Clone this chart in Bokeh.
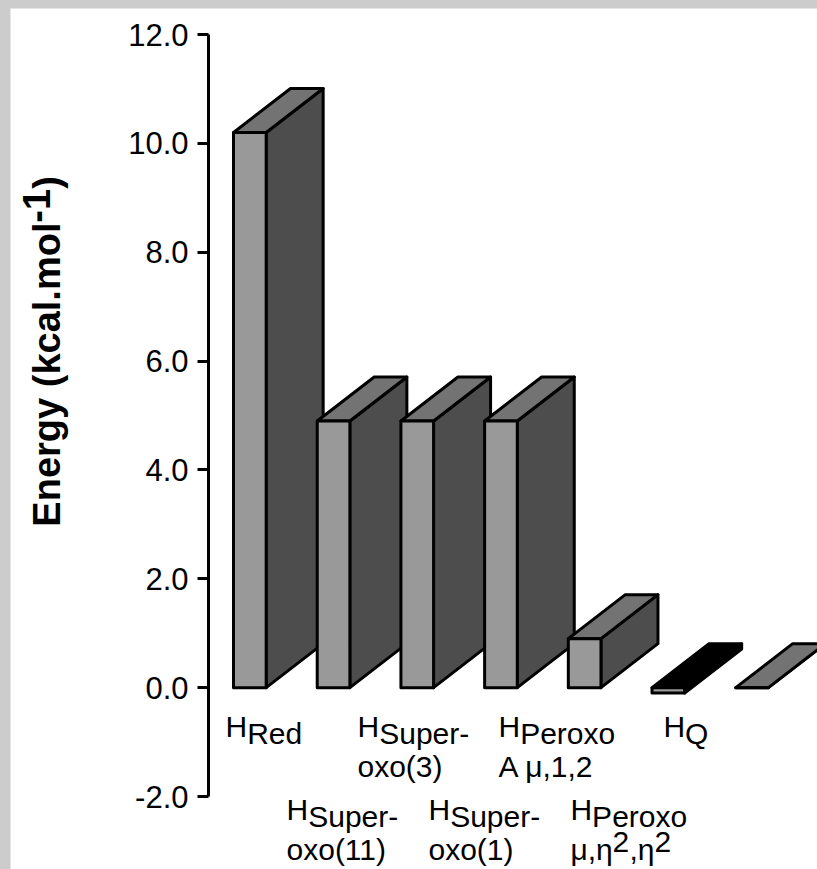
import math
import re
from bokeh.plotting import figure
from bokeh.models import ColumnDataSource, Range1d, FixedTicker, PrintfTickFormatter, LinearAxis
from bokeh.embed import file_html
from bokeh.resources import INLINE
from bokeh.core.properties import value

# ---------------- data ----------------
categories = ["HRed", "HSuper-oxo(11)", "HSuper-oxo(3)", "HSuper-oxo(1)",
              "HPeroxo A μ,1,2", "HPeroxo μ,η2,η2", "HQ"]
energies = [10.2, 4.9, 4.9, 4.9, 0.9, -0.1, 0.0]
label_main = ["Red", "Super-", "Super-", "Super-", "Peroxo", "Peroxo", "Q"]
label_second = ["", "oxo(11)", "oxo(3)", "oxo(1)", "A μ,1,2", "", ""]
y_ticks = [-2, 0, 2, 4, 6, 8, 10, 12]

# ---------------- layout / style ----------------
W, H = 807, 861
PX_X, PX_Y = 83.7, 54.43          # pixels per data unit
X0, X1 = -2.8596, 6.782
Y0, Y1 = -3.341, 12.478
AXIS_X = -0.494                    # where the energy axis stands
BAR_W = 0.39
DX = 57 / PX_X                     # 3-D depth offset
DY = 44 / PX_Y
FRONT, SIDE, TOP = "#999999", "#4d4d4d", "#737373"
top_colors = [TOP, TOP, TOP, TOP, TOP, "#000000", TOP]
side_colors = [SIDE, SIDE, SIDE, SIDE, SIDE, "#000000", SIDE]
FONT = "Liberation Sans"

label_left = [-0.291, 0.438, 1.286, 2.134, 2.970, 3.830, 4.941]
label_row = [0, 1, 0, 1, 0, 1, 0]
row_base = [-1.01 + 9 / PX_Y, -2.535 + 9 / PX_Y]
H_RAISE = 7 / PX_Y
LINE2 = 33 / PX_Y
H_WIDTH = 21.7      # px advance of "H" at 30px

p = figure(width=W, height=H, output_backend="svg", toolbar_location=None,
           x_range=Range1d(X0, X1), y_range=Range1d(Y0, Y1),
           x_axis_location=None, y_axis_location=None,
           min_border_left=0, min_border_right=0,
           min_border_top=0, min_border_bottom=0, background_fill_color="white",
           border_fill_color="white")
p.outline_line_color = None
p.grid.visible = False

# ---------------- bars ----------------
n = len(energies)
xl = [i - BAR_W / 2 for i in range(n)]
xr = [i + BAR_W / 2 for i in range(n)]
tops = [max(v, 0) for v in energies]
bots = [min(v, 0) for v in energies]

side_src = ColumnDataSource(dict(
    xs=[[xr[i], xr[i] + DX, xr[i] + DX, xr[i]] for i in range(n)],
    ys=[[bots[i], bots[i] + DY, tops[i] + DY, tops[i]] for i in range(n)],
    c=side_colors))
top_src = ColumnDataSource(dict(
    xs=[[xl[i], xr[i], xr[i] + DX, xl[i] + DX] for i in range(n)],
    ys=[[tops[i], tops[i], tops[i] + DY, tops[i] + DY] for i in range(n)],
    c=top_colors))
front_src = ColumnDataSource(dict(left=xl, right=xr, top=tops, bottom=bots))

p.patches("xs", "ys", source=side_src, fill_color="c", line_color="black",
          line_width=3, line_join="round")
p.patches("xs", "ys", source=top_src, fill_color="c", line_color="black",
          line_width=3, line_join="round")
p.quad(left="left", right="right", top="top", bottom="bottom", source=front_src,
       fill_color=FRONT, line_color="black", line_width=3, line_join="round")

# ---------------- category labels ----------------
tx, ty, tt, toff = [], [], [], []
for i in range(n):
    base = row_base[label_row[i]]
    tx.append(label_left[i]); ty.append(base + H_RAISE); tt.append("H"); toff.append(0)
    tx.append(label_left[i]); ty.append(base); tt.append(label_main[i]); toff.append(H_WIDTH)
    if label_second[i]:
        tx.append(label_left[i]); ty.append(base - LINE2); tt.append(label_second[i]); toff.append(0)
# μ,η²,η² second line of the sixth label
i6 = 5
b6 = row_base[label_row[i6]] - LINE2
for txt, off, up in [("μ,η", 0, 0), ("2", 42, 8), (",η", 59, 0), ("2", 84, 8)]:
    tx.append(label_left[i6]); ty.append(b6 + up / PX_Y); tt.append(txt); toff.append(off)

lab_src = ColumnDataSource(dict(x=tx, y=ty, text=tt, xo=toff))
p.text(x="x", y="y", text="text", x_offset="xo", source=lab_src,
       text_font=value(FONT), text_font_size="30px", text_color="black",
       text_align="left", text_baseline="alphabetic")

# ---------------- y axis ----------------
ax = LinearAxis(fixed_location=AXIS_X, bounds=(-2, 12),
                ticker=FixedTicker(ticks=y_ticks),
                formatter=PrintfTickFormatter(format="%.1f"))
ax.minor_tick_line_color = None
ax.axis_line_width = 3
ax.axis_line_color = "black"
ax.major_tick_line_width = 3
ax.major_tick_line_color = "black"
ax.major_tick_out = 11
ax.major_tick_in = 0
ax.major_label_standoff = 9
ax.major_label_text_font = FONT
ax.major_label_text_font_size = "31px"
ax.major_label_text_color = "black"
p.add_layout(ax, "left")

# ---------------- y axis title ----------------
def dx_(px):
    return (px - 249.35) / PX_X

def dy_(py):
    return (688 - py) / PX_Y

ttl_src = ColumnDataSource(dict(
    x=[dx_(47), dx_(36), dx_(47)],
    y=[dy_(527), dy_(223), dy_(189)],
    text=["Energy (kcal.mol", "-1", ")"]))
p.text(x="x", y="y", text="text", source=ttl_src, angle=math.pi / 2,
       text_font=value(FONT), text_font_size="38px", text_font_style="bold",
       text_color="black", text_align="left", text_baseline="alphabetic")

html = file_html(p, INLINE)
css = ("<style>html{background:#cccccc !important;overflow:hidden !important;}"
       "body{background:#cccccc !important;margin:8px 0 0 10px !important;"
       "padding:0 !important;overflow:hidden !important;height:auto !important;}</style>")
html = re.sub(r"</head>", css + "</head>", html, count=1)
open("out.html", "w").write(html)
